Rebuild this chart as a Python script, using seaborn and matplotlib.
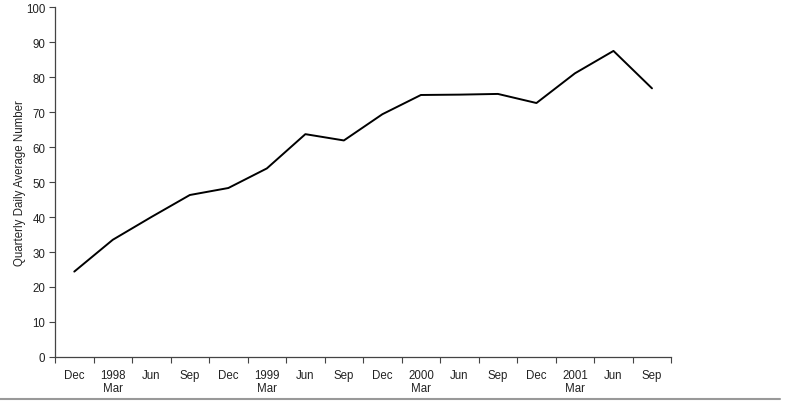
import matplotlib
matplotlib.use("Agg")
import matplotlib.pyplot as plt
import matplotlib.lines as mlines
import seaborn as sns
import pandas as pd
import numpy as np

quarters = ["Dec", "1998\nMar", "Jun", "Sep", "Dec", "1999\nMar", "Jun", "Sep",
            "Dec", "2000\nMar", "Jun", "Sep", "Dec", "2001\nMar", "Jun", "Sep"]
values = [24.4, 33.5, 40.0, 46.3, 48.3, 53.9, 63.7, 61.9,
          69.4, 74.9, 75.0, 75.2, 72.6, 81.1, 87.5, 76.8]
y_ticks = list(range(0, 101, 10))

sns.set_style("white")
plt.rcParams['font.family'] = ['Liberation Sans', 'DejaVu Sans']

df = pd.DataFrame({"pos": np.arange(len(quarters)), "value": values})

fig = plt.figure(figsize=(7.86, 4.10), dpi=100)
ax = fig.add_axes([0.070, 0.127, 0.784, 0.853])
sns.lineplot(data=df, x="pos", y="value", ax=ax, color="black", linewidth=1.4)

ax.set_xlim(-0.5, len(quarters) - 0.5)
ax.set_ylim(0, 100)
ax.set_yticks(y_ticks)
ax.set_xticks(np.arange(-0.5, len(quarters), 1.0))
ax.set_xticklabels([])
ax.set_xticks(np.arange(len(quarters)), minor=True)
ax.set_xticklabels(quarters, minor=True, linespacing=1.1)
ax.tick_params(axis="x", which="major", direction="out", length=4, width=0.8, color="#444444", bottom=True)
ax.tick_params(axis="x", which="minor", length=0, labelsize=8.3, pad=8.5, labelcolor="#222222")
ax.tick_params(axis="y", direction="out", length=4, width=0.8, color="#444444", left=True, labelsize=8.3, labelcolor="#222222", pad=3)

ax.set_xlabel("")
ax.set_ylabel("Quarterly Daily Average Number", fontsize=8.3, color="#222222", labelpad=0)

for s in ["top", "right"]:
    ax.spines[s].set_visible(False)
for s in ["left", "bottom"]:
    ax.spines[s].set_color("#444444")
    ax.spines[s].set_linewidth(0.9)

fig.add_artist(mlines.Line2D([0.0, 0.993], [1 - 400 / 410, 1 - 400 / 410],
                             transform=fig.transFigure, color="#999999", linewidth=1.5))

fig.savefig("out.png", dpi=100)
